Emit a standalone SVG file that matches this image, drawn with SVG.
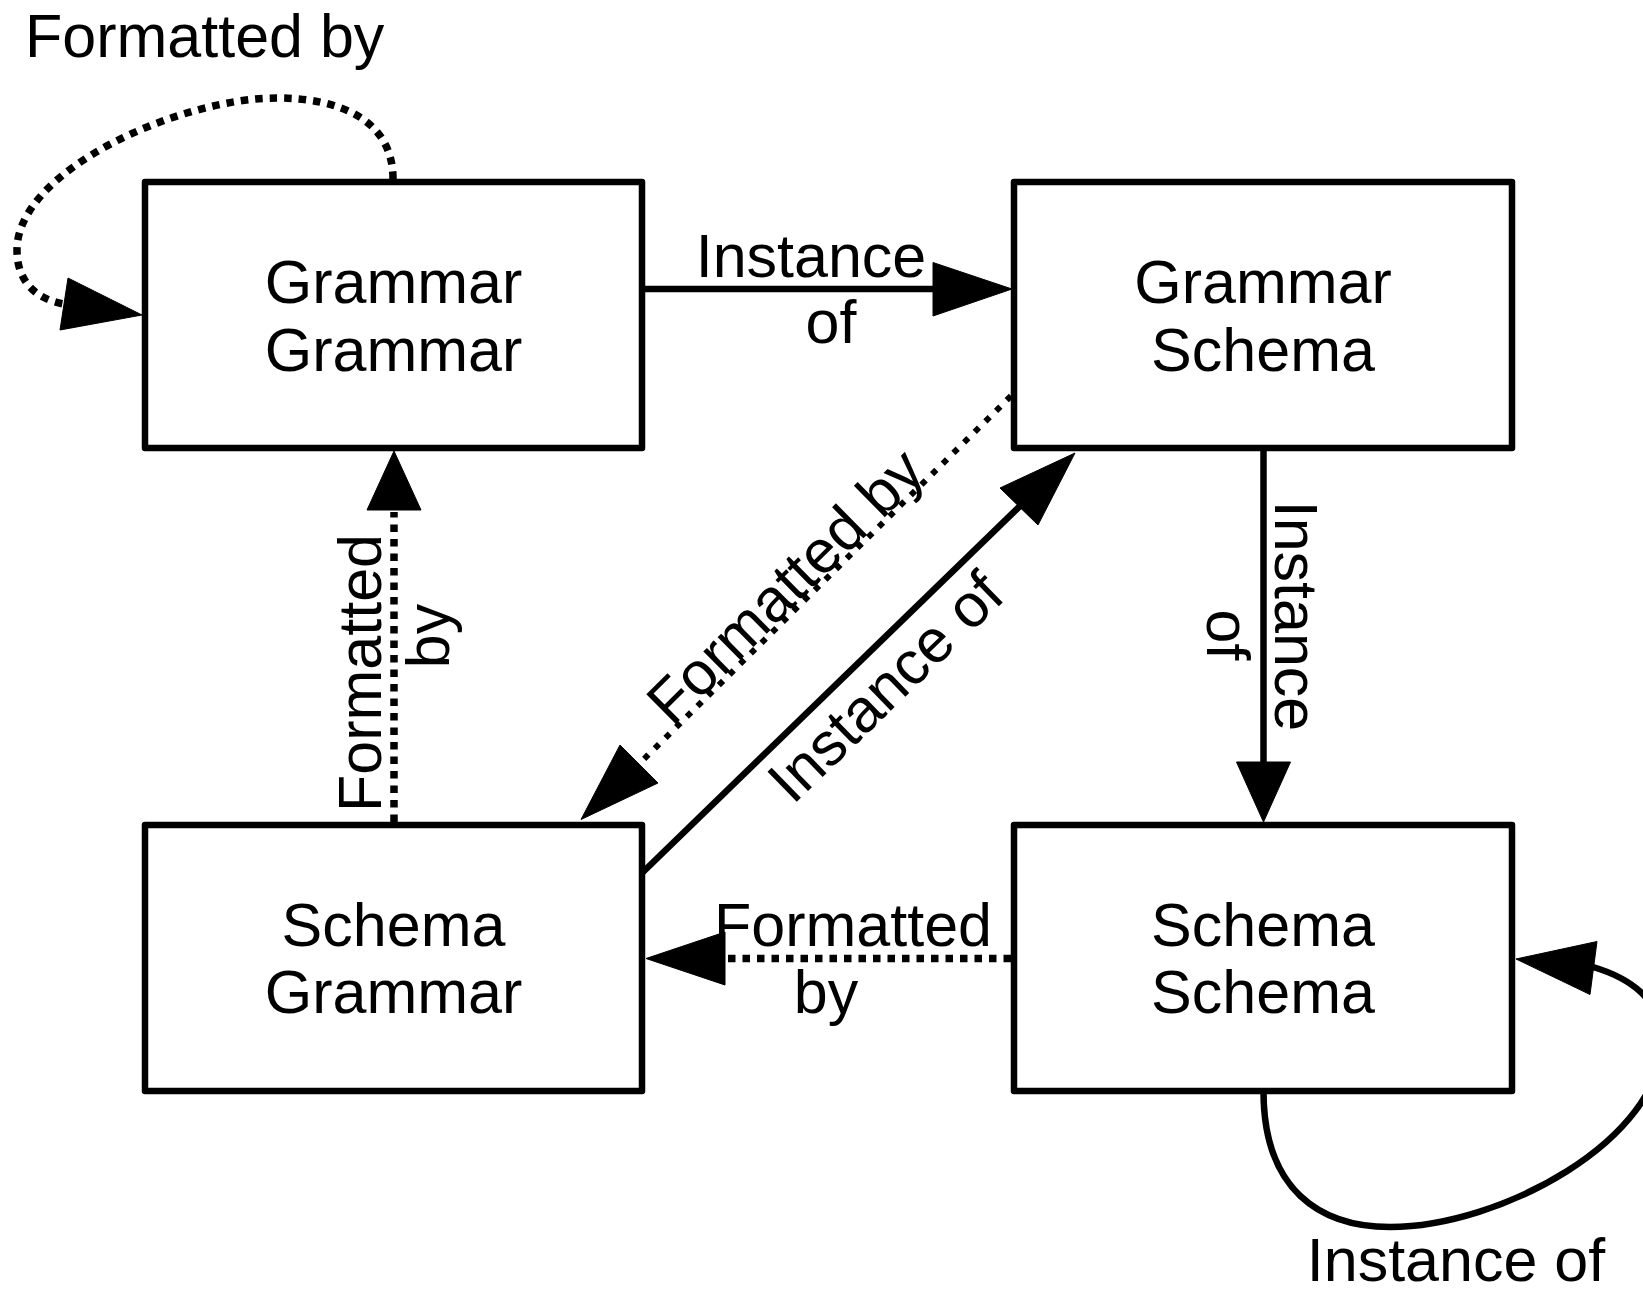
<svg xmlns="http://www.w3.org/2000/svg" width="1643" height="1290" viewBox="0 0 1643 1290">
<style>
.box{fill:#fff;stroke:#000;stroke-width:6.5;stroke-linejoin:round}
.t{font-family:"Liberation Sans",Arial,sans-serif;font-size:61px;fill:#000}
.m{text-anchor:middle}
.solid{fill:none;stroke:#000;stroke-width:6.5}
.dot{fill:none;stroke:#000;stroke-width:7.5;stroke-dasharray:7.5 7}
.dotd{fill:none;stroke:#000;stroke-width:6;stroke-dasharray:6 9}
.ah{fill:#000;stroke:#000;stroke-width:1}
</style>
<rect width="1643" height="1290" fill="#fff"/>
<g id="n-grammar-grammar">
<rect class="box" x="145" y="182" width="497" height="266"/>
<text class="t m" x="393.5" y="303">Grammar</text>
<text class="t m" x="393.5" y="371">Grammar</text>
</g>
<g id="n-grammar-schema">
<rect class="box" x="1014" y="182" width="498" height="266"/>
<text class="t m" x="1263" y="303">Grammar</text>
<text class="t m" x="1263" y="371">Schema</text>
</g>
<g id="n-schema-grammar">
<rect class="box" x="145" y="825" width="497" height="266"/>
<text class="t m" x="393.5" y="946">Schema</text>
<text class="t m" x="393.5" y="1013">Grammar</text>
</g>
<g id="n-schema-schema">
<rect class="box" x="1014" y="825" width="498" height="266"/>
<text class="t m" x="1263" y="946">Schema</text>
<text class="t m" x="1263" y="1013">Schema</text>
</g>
<g id="connectors">
<!-- GG self loop: Formatted by -->
<path class="dot" d="M393,179 C393,120 340,98 277,98 C180,98 17,170 17,250 C17,285 40,300 64,304"/>
<polygon class="ah" points="142,315 68,278 60,330"/>
<text class="t" x="25" y="57">Formatted by</text>
<!-- GG -> GS Instance of -->
<line class="solid" x1="642" y1="289" x2="935" y2="289"/>
<polygon class="ah" points="1012,289 933,262.5 933,316"/>
<text class="t m" x="811" y="277">Instance</text>
<text class="t m" x="831" y="343">of</text>
<!-- GS -> SS Instance of -->
<line class="solid" x1="1263.5" y1="448" x2="1263.5" y2="764"/>
<polygon class="ah" points="1263.5,822 1236.5,762 1290.5,762"/>
<text class="t m" transform="translate(1275,616) rotate(90)">Instance</text>
<text class="t m" transform="translate(1207,635) rotate(90)">of</text>
<!-- SG -> GG Formatted by -->
<line class="dot" x1="394" y1="822" x2="394" y2="512"/>
<polygon class="ah" points="394,451 367,510 421,510"/>
<text class="t m" transform="translate(381,673) rotate(-90)">Formatted</text>
<text class="t m" transform="translate(449,636) rotate(-90)">by</text>
<!-- SS -> SG Formatted by -->
<line class="dot" x1="1011" y1="958.5" x2="727" y2="958.5"/>
<polygon class="ah" points="646,958.5 725,932 725,985"/>
<text class="t m" x="853" y="946">Formatted</text>
<text class="t m" x="826" y="1013">by</text>
<!-- GS -> SG Formatted by (diagonal) -->
<line class="dotd" x1="1011" y1="396" x2="640" y2="763"/>
<polygon class="ah" points="581,819.5 620,745 658,783"/>
<text class="t m" transform="translate(800,601) rotate(-44.7)">Formatted by</text>
<!-- SG -> GS Instance of (diagonal) -->
<line class="solid" x1="642" y1="873" x2="1021" y2="505"/>
<polygon class="ah" points="1075,453 1000,488 1038,525"/>
<text class="t m" transform="translate(900,702) rotate(-44.1)">Instance of</text>
<!-- SS self loop: Instance of -->
<path class="solid" d="M1263.5,1091 C1263.5,1190 1320,1227 1390,1227 C1500,1227 1662,1140 1662,1040 C1662,1000 1630,978 1593,967"/>
<polygon class="ah" points="1516,959 1597,941.5 1590,994.5"/>
<text class="t m" x="1456" y="1281">Instance of</text>
</g>
</svg>
